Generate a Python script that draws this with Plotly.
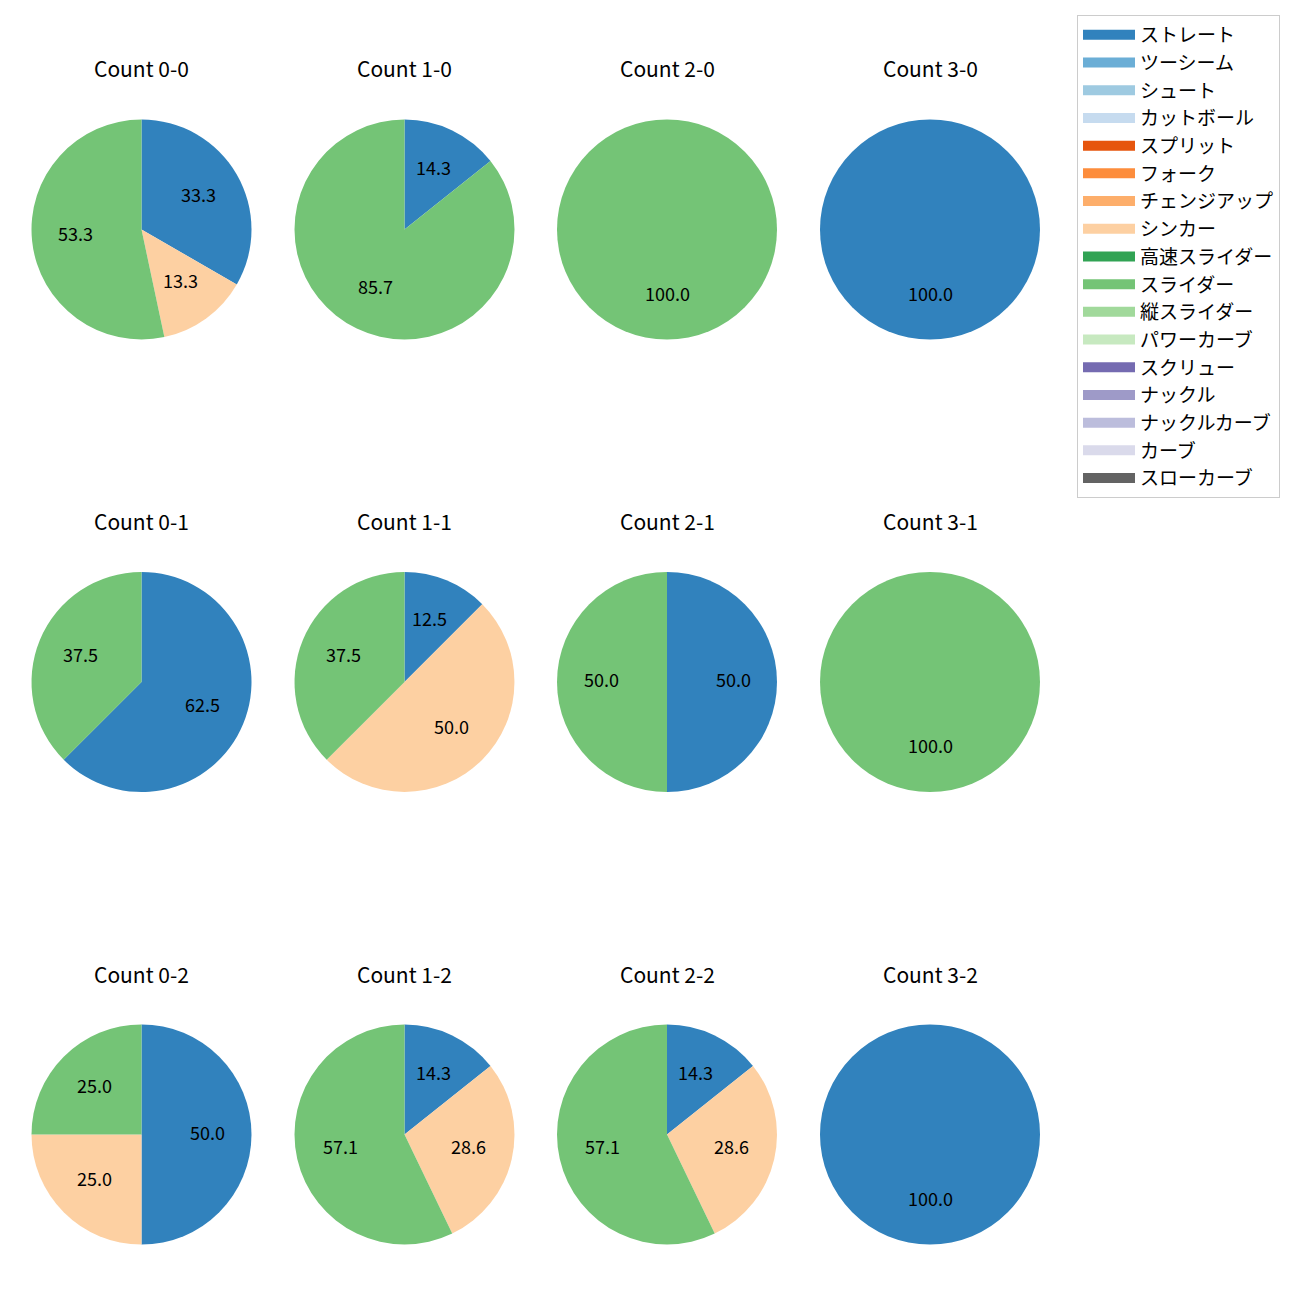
import math
import plotly.graph_objects as go

pitch_types = ["ストレート", "ツーシーム", "シュート", "カットボール", "スプリット", "フォーク",
               "チェンジアップ", "シンカー", "高速スライダー", "スライダー", "縦スライダー",
               "パワーカーブ", "スクリュー", "ナックル", "ナックルカーブ", "カーブ", "スローカーブ"]
pitch_colors = ["#3182bd", "#6baed6", "#9ecae1", "#c6dbef", "#e6550d", "#fd8d3c",
                "#fdae6b", "#fdd0a2", "#31a354", "#74c476", "#a1d99b", "#c7e9c0",
                "#756bb1", "#9e9ac8", "#bcbddc", "#dadaeb", "#636363"]

count_labels = ["0-0", "1-0", "2-0", "3-0",
                "0-1", "1-1", "2-1", "3-1",
                "0-2", "1-2", "2-2", "3-2"]
straight = [5, 1, 0, 1, 5, 1, 1, 0, 2, 1, 1, 1]
sinker = [2, 0, 0, 0, 0, 4, 0, 0, 1, 2, 2, 0]
slider = [8, 6, 1, 0, 3, 3, 1, 1, 1, 4, 4, 0]

# page body has an 8px margin; lay out in page pixels and shift
OFF = 8
W = H = 1300 - OFF
col_cx = [141.5, 404.5, 667, 930]
row_cy = [229.5, 682, 1134.5]
R = 110
FONT = "Noto Sans CJK JP"


def px(x):
    return (x - OFF) / W


def py(y):
    return 1 - (y - OFF) / H


fig = go.Figure()
annotations = []
for i, cl in enumerate(count_labels):
    r, c = divmod(i, 4)
    cx, cy = col_cx[c], row_cy[r]
    vals = {"ストレート": straight[i], "シンカー": sinker[i], "スライダー": slider[i]}
    labels = [p for p in pitch_types if vals.get(p, 0) > 0]
    values = [vals[p] for p in labels]
    colors = [pitch_colors[pitch_types.index(p)] for p in labels]
    fig.add_trace(go.Pie(
        labels=labels, values=values, sort=False, direction="clockwise", rotation=0,
        marker=dict(colors=colors, line=dict(width=0)),
        textinfo="none", hoverinfo="label+percent", showlegend=False,
        domain=dict(x=[px(cx - R), px(cx + R)], y=[py(cy + R), py(cy - R)]),
    ))
    total = sum(values)
    cum = 0
    for v in values:
        frac = v / total
        th = 2 * math.pi * (cum + frac / 2)
        cum += frac
        x = cx + 0.6 * R * math.sin(th)
        y = cy - 0.6 * R * math.cos(th) - 3
        annotations.append(dict(x=px(x), y=py(y), xref="paper", yref="paper",
                                xanchor="center", yanchor="middle",
                                text=f"{frac * 100:.1f}", showarrow=False,
                                font=dict(size=18, color="black", family=FONT)))
    annotations.append(dict(x=px(cx), y=py(cy - 161), xref="paper", yref="paper",
                            xanchor="center", yanchor="middle",
                            text=f"Count {cl}", showarrow=False,
                            font=dict(size=21, color="black", family=FONT)))

for p, col in zip(pitch_types, pitch_colors):
    fig.add_trace(go.Scatter(x=[None], y=[None], mode="lines", name=p,
                             line=dict(color=col, width=13)))

fig.update_layout(
    width=W, height=H, margin=dict(l=0, r=0, t=0, b=0),
    paper_bgcolor="white", plot_bgcolor="white",
    xaxis=dict(visible=False), yaxis=dict(visible=False),
    annotations=annotations,
    font=dict(family=FONT),
    legend=dict(x=px(1077), y=py(15), xanchor="left", yanchor="top",
                bgcolor="white", bordercolor="#cccccc", borderwidth=1,
                font=dict(size=19, color="black", family=FONT),
                itemwidth=52, tracegroupgap=0),
)
fig.write_html("out.html")
